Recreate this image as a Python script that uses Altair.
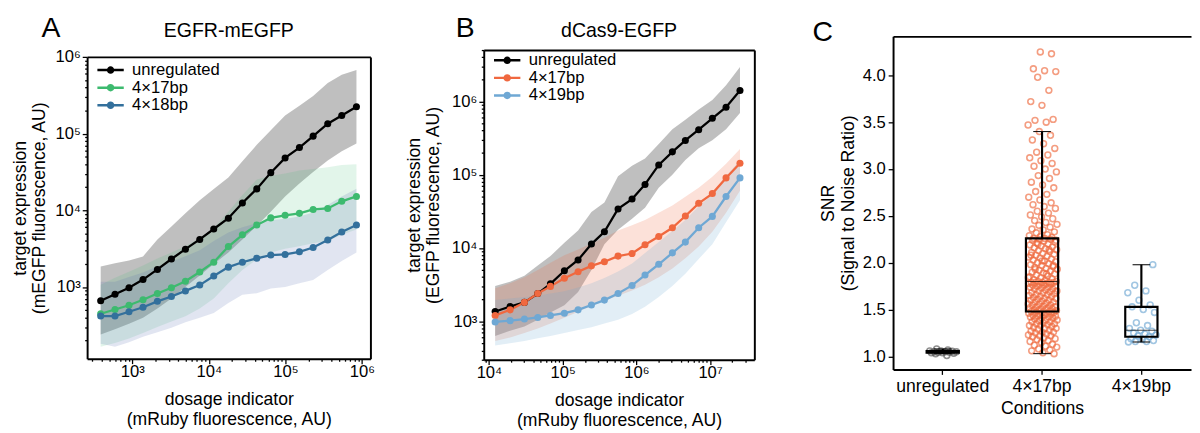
import altair as alt
import pandas as pd

FONT = "Liberation Sans"

# ---------------- Panel A : EGFR-mEGFP  (all values are log10)
a_series = ["unregulated", "4×17bp", "4×18bp"]
a_colors = ["#000000", "#3dba6f", "#33709c"]
a_band_colors = ["#000000", "#3dba6f", "#5a6fb0"]
a_band_opacity = [0.25, 0.15, 0.18]
a_x_log10 = [2.587, 2.774, 2.957, 3.140, 3.328, 3.511, 3.694, 3.881, 4.064, 4.255,
             4.438, 4.626, 4.809, 4.996, 5.183, 5.362, 5.553, 5.736, 5.928]
a_unreg = [2.821, 2.906, 2.991, 3.097, 3.229, 3.365, 3.493, 3.620, 3.756, 3.896,
           4.096, 4.279, 4.491, 4.683, 4.818, 4.967, 5.129, 5.235, 5.350]
a_17 = [2.651, 2.706, 2.762, 2.834, 2.915, 2.991, 3.076, 3.195, 3.323, 3.527,
        3.680, 3.807, 3.901, 3.935, 3.960, 4.011, 4.024, 4.117, 4.181]
a_18 = [2.621, 2.621, 2.677, 2.736, 2.813, 2.876, 2.949, 3.025, 3.144, 3.259,
        3.323, 3.374, 3.416, 3.425, 3.459, 3.514, 3.612, 3.718, 3.807]
a_unreg_hi = [3.267, 3.310, 3.344, 3.399, 3.620, 3.790, 3.960, 4.130, 4.279, 4.428,
              4.640, 4.853, 5.044, 5.235, 5.363, 5.490, 5.660, 5.766, 5.830]
a_unreg_lo = [2.38, 2.45, 2.52, 2.60, 2.72, 2.85, 3.00, 3.15, 3.30, 3.45,
              3.62, 3.80, 3.98, 4.18, 4.35, 4.50, 4.65, 4.77, 4.87]
a_17_hi = [3.03, 3.12, 3.20, 3.28, 3.37, 3.45, 3.53, 3.64, 3.77, 3.98,
           4.20, 4.40, 4.45, 4.48, 4.52, 4.54, 4.56, 4.59, 4.60]
a_17_lo = [2.22, 2.27, 2.33, 2.40, 2.48, 2.55, 2.62, 2.72, 2.85, 3.05,
           3.22, 3.36, 3.45, 3.50, 3.53, 3.57, 3.60, 3.68, 3.75]
a_18_hi = [3.07, 3.07, 3.13, 3.19, 3.27, 3.33, 3.40, 3.48, 3.60, 3.71,
           3.78, 3.83, 3.87, 3.89, 3.92, 3.97, 4.07, 4.18, 4.28]
a_18_lo = [2.26, 2.22, 2.28, 2.35, 2.41, 2.47, 2.54, 2.60, 2.66, 2.79,
           2.90, 2.92, 2.98, 3.00, 3.05, 3.09, 3.22, 3.34, 3.45]

# ---------------- Panel B : dCas9-EGFP
b_series = ["unregulated", "4×17bp", "4×19bp"]
b_colors = ["#000000", "#f0683f", "#6fa8d4"]
b_band_colors = ["#000000", "#f0683f", "#6fa8d4"]
b_band_opacity = [0.25, 0.2, 0.2]
b_x_log10 = [4.084, 4.287, 4.481, 4.662, 4.834, 5.023, 5.209, 5.390, 5.566, 5.751,
             5.941, 6.117, 6.303, 6.488, 6.664, 6.845, 7.030, 7.216, 7.405]
b_unreg = [3.133, 3.200, 3.258, 3.378, 3.511, 3.689, 3.836, 4.053, 4.222, 4.533,
           4.667, 4.867, 5.133, 5.311, 5.467, 5.613, 5.769, 5.920, 6.147]
b_17 = [3.080, 3.156, 3.258, 3.378, 3.476, 3.587, 3.676, 3.756, 3.813, 3.889,
        3.924, 4.044, 4.156, 4.276, 4.436, 4.609, 4.742, 4.956, 5.156]
b_19 = [2.991, 3.009, 3.031, 3.053, 3.080, 3.111, 3.156, 3.222, 3.289, 3.378,
        3.489, 3.631, 3.778, 3.933, 4.080, 4.276, 4.431, 4.702, 4.956]
b_unreg_hi = [3.48, 3.54, 3.62, 3.76, 3.89, 4.07, 4.24, 4.49, 4.62, 4.98,
              5.12, 5.22, 5.42, 5.62, 5.75, 5.89, 6.02, 6.22, 6.47]
b_unreg_lo = [2.80, 2.87, 2.93, 3.02, 3.12, 3.22, 3.40, 3.70, 4.05, 4.25,
              4.40, 4.55, 4.82, 5.00, 5.20, 5.36, 5.47, 5.62, 5.84]
b_17_hi = [3.45, 3.52, 3.60, 3.70, 3.80, 3.90, 3.98, 4.06, 4.14, 4.24,
           4.31, 4.38, 4.48, 4.58, 4.70, 4.82, 4.97, 5.15, 5.35]
b_17_lo = [2.73, 2.78, 2.84, 2.90, 2.97, 3.05, 3.13, 3.21, 3.28, 3.35,
           3.42, 3.50, 3.60, 3.72, 3.86, 4.02, 4.22, 4.48, 4.78]
b_19_hi = [3.29, 3.31, 3.33, 3.35, 3.38, 3.41, 3.46, 3.52, 3.59, 3.68,
           3.79, 3.93, 4.08, 4.23, 4.38, 4.57, 4.73, 4.98, 5.20]
b_19_lo = [2.67, 2.70, 2.73, 2.77, 2.80, 2.84, 2.88, 2.92, 2.97, 3.02,
           3.10, 3.20, 3.33, 3.48, 3.65, 3.85, 4.05, 4.35, 4.65]

# ---------------- Panel C : SNR per condition
c_conditions = ["unregulated", "4×17bp", "4×19bp"]
c_colors = ["#555555", "#ef6a3e", "#6fa8d4"]
snr_unregulated = [1.01, 1.03, 1.035, 1.04, 1.04, 1.045, 1.045, 1.05, 1.05, 1.05,
                   1.055, 1.06, 1.06, 1.07, 1.08]
snr_4x17 = [1.03, 1.04, 1.06, 1.07, 1.08, 1.10, 1.11, 1.12, 1.13, 1.15, 1.16, 1.17,
            1.18, 1.19, 1.20, 1.21, 1.22, 1.22, 1.23, 1.24, 1.25, 1.26, 1.26, 1.27,
            1.28, 1.29, 1.30, 1.30, 1.31, 1.32, 1.33, 1.33, 1.34, 1.35, 1.35, 1.36,
            1.37, 1.37, 1.38, 1.39, 1.39, 1.40, 1.41, 1.41, 1.42, 1.42, 1.43, 1.43,
            1.44, 1.44, 1.45, 1.45, 1.46, 1.46, 1.47, 1.47, 1.47,
            1.48, 1.48,
            1.49, 1.49, 1.50, 1.50, 1.51, 1.51, 1.52, 1.52, 1.53, 1.53, 1.54, 1.55,
            1.55, 1.56, 1.56, 1.57, 1.58, 1.58, 1.59, 1.60, 1.60, 1.61, 1.62, 1.62,
            1.63, 1.64, 1.64, 1.65, 1.66, 1.66, 1.67, 1.68, 1.68, 1.69, 1.70, 1.70,
            1.71, 1.72, 1.72, 1.73, 1.74, 1.74, 1.75, 1.75, 1.76, 1.76, 1.77, 1.77,
            1.78, 1.78, 1.79, 1.79, 1.79, 1.79, 1.79,
            1.80, 1.80,
            1.81, 1.82, 1.83, 1.84, 1.85, 1.86, 1.87, 1.88, 1.89, 1.90, 1.91, 1.92,
            1.93, 1.94, 1.95, 1.96, 1.97, 1.98, 1.99, 2.00, 2.01, 2.02, 2.03, 2.04,
            2.05, 2.06, 2.07, 2.08, 2.09, 2.10, 2.11, 2.12, 2.13, 2.14, 2.15, 2.16,
            2.17, 2.18, 2.19, 2.20, 2.21, 2.22, 2.23, 2.24, 2.25, 2.25, 1.84, 1.88,
            1.93, 1.97, 2.02, 2.08, 2.14, 2.20, 2.24,
            2.26, 2.26,
            2.27, 2.28, 2.29, 2.30, 2.32, 2.33, 2.35, 2.36, 2.38, 2.40, 2.41, 2.43,
            2.45, 2.47, 2.49, 2.51, 2.53, 2.55, 2.58, 2.60, 2.62, 2.64, 2.67, 2.70,
            2.73, 2.76, 2.80, 2.83, 2.86, 2.90, 2.93, 2.97, 3.00, 3.03, 3.06, 3.09,
            3.12, 3.15, 3.18, 3.22, 3.27, 3.31, 3.36, 3.40,
            3.47, 3.50, 3.52, 3.53, 3.68, 3.72, 3.84, 3.98, 4.04, 4.05, 4.07, 4.23, 4.25]
snr_4x19 = [1.155, 1.16, 1.16, 1.17, 1.18, 1.19, 1.21, 1.22, 1.23, 1.24, 1.25, 1.27,
            1.28, 1.30, 1.33, 1.36, 1.47, 1.50, 1.53, 1.55, 1.60, 1.68, 1.70, 1.76, 1.98]

panel_letters = ["A", "B", "C"]
panel_titles = ["EGFR-mEGFP", "dCas9-EGFP"]
x_title = ["dosage indicator", "(mRuby fluorescence, AU)"]
a_y_title = ["target expression", "(mEGFP fluorescence, AU)"]
b_y_title = ["target expression", "(EGFP fluorescence, AU)"]

SUP = {2: "²", 3: "³", 4: "⁴", 5: "⁵", 6: "⁶", 7: "⁷"}
# legend glyph: a line with a filled dot (dot drawn as two thick concentric rings)
LEG_PATH = ("M-2,0L2,0"
            "M-0.38,0A0.38,0.38,0,1,0,0.38,0A0.38,0.38,0,1,0,-0.38,0"
            "M-0.16,0A0.16,0.16,0,1,0,0.16,0A0.16,0.16,0,1,0,-0.16,0")

TOP = 32  # common top of all views; curve panels start their frame lower


def long_df(x_log, names, mids, his, los):
    rows = []
    for s, m, h, l in zip(names, mids, his, los):
        for xi, mi, hi_, lo_ in zip(x_log, m, h, l):
            rows.append({"series": s, "x": 10 ** xi, "y": 10 ** mi,
                         "hi": 10 ** hi_, "lo": 10 ** lo_})
    return pd.DataFrame(rows)


def log_axis(dmin, dmax, title, title_padding, label_padding, line_height=20):
    vals, majors = [], []
    for k in range(1, 9):
        for m in range(1, 10):
            v = m * 10 ** k
            if dmin <= v <= dmax:
                vals.append(v)
                if m == 1:
                    majors.append(k)
    expr = "".join(f"datum.value == {10 ** k} ? '10{SUP[k]}' : " for k in majors) + "''"
    test = "indexof([" + ",".join(str(10 ** k) for k in majors) + "], datum.value) >= 0"
    return alt.Axis(values=vals, labelExpr=expr,
                    tickSize={"condition": {"test": test, "value": 5}, "value": 2.5},
                    tickWidth=1.3, tickColor="black", labelFontSize=17, titleFontSize=18,
                    title=title, titlePadding=title_padding, titleLineHeight=line_height,
                    labelPadding=label_padding, domain=True, domainWidth=2,
                    domainColor="black", grid=False, labelOverlap=False, labelFlush=False)


def frame_axis(orient, offset=0):
    return alt.Axis(orient=orient, labels=False, ticks=False, title=None, domain=True,
                    domainWidth=2, domainColor="black", grid=False, offset=offset)


def curve_panel(df, names, colors, band_colors, band_op, xdom, ydom, w, frame_top,
                frame_bottom, y_title, y_tp, letter, title, letter_x, leg_xy):
    h = frame_bottom - TOP
    inset = frame_top - TOP
    xs = alt.Scale(type="log", domain=xdom, nice=False)
    ys = alt.Scale(type="log", domain=ydom, nice=False, range=[h, inset])
    xax = log_axis(xdom[0], xdom[1], x_title, 12, 0)
    yax = log_axis(ydom[0], ydom[1], y_title, y_tp, 2)
    layers = []
    for s, c, o in zip(names, band_colors, band_op):
        layers.append(
            alt.Chart(df).transform_filter(alt.datum.series == s)
            .mark_area(color=c, opacity=o)
            .encode(x=alt.X("x:Q", scale=xs, axis=None),
                    y=alt.Y("lo:Q", scale=ys, axis=None), y2="hi:Q"))
    cscale = alt.Scale(domain=names, range=colors)
    leg = alt.Legend(title=None, orient="none", legendX=leg_xy[0], legendY=leg_xy[1],
                     padding=0, symbolType=LEG_PATH, symbolSize=182, symbolStrokeWidth=2.5,
                     labelFontSize=17, labelFont=FONT, labelOffset=13.5, rowPadding=0,
                     labelColor="black", symbolOpacity=1)
    layers.append(alt.Chart(df).mark_line(strokeWidth=2.3).encode(
        x=alt.X("x:Q", scale=xs, axis=xax), y=alt.Y("y:Q", scale=ys, axis=yax),
        color=alt.Color("series:N", scale=cscale, legend=leg, sort=names)))
    layers.append(alt.Chart(df).mark_circle(size=52, opacity=1).encode(
        x=alt.X("x:Q", scale=xs, axis=frame_axis("top", -inset)),
        y=alt.Y("y:Q", scale=ys, axis=frame_axis("right")),
        color=alt.Color("series:N", scale=cscale, legend=None, sort=names)))
    layers.append(alt.Chart(pd.DataFrame({"t": [letter]})).mark_text(
        font=FONT, fontSize=29, align="center", baseline="alphabetic", color="black"
    ).encode(text="t:N", x=alt.value(letter_x), y=alt.value(1)))
    layers.append(alt.Chart(pd.DataFrame({"t": [title]})).mark_text(
        font=FONT, fontSize=20, align="center", baseline="alphabetic", color="black"
    ).encode(text="t:N", x=alt.value(w / 2), y=alt.value(1)))
    return (alt.layer(*layers)
            .resolve_axis(x="independent", y="independent")
            .properties(width=w, height=h, view=alt.ViewBackground(stroke="transparent")))


dfA = long_df(a_x_log10, a_series, [a_unreg, a_17, a_18],
              [a_unreg_hi, a_17_hi, a_18_hi], [a_unreg_lo, a_17_lo, a_18_lo])
dfB = long_df(b_x_log10, b_series, [b_unreg, b_17, b_19],
              [b_unreg_hi, b_17_hi, b_19_hi], [b_unreg_lo, b_17_lo, b_19_lo])

panelA = curve_panel(dfA, a_series, a_colors, a_band_colors, a_band_opacity,
                     [257, 1290000], [116, 1000000], 290, 53, 362, a_y_title, 6,
                     panel_letters[0], panel_titles[0], -37, (15.5, 26))
panelB = curve_panel(dfB, b_series, b_colors, b_band_colors, b_band_opacity,
                     [8500, 39800000], [299, 5010000], 277, 46, 363, b_y_title, 9,
                     panel_letters[1], panel_titles[1], -19, (15.5, 16))

# ---------------- Panel C
c_rows = []
for cond, vals in zip(c_conditions, [snr_unregulated, snr_4x17, snr_4x19]):
    for v in vals:
        c_rows.append({"cond": cond, "snr": v})
dfC = pd.DataFrame(c_rows)

# band step of ~103 px (the third band runs past the clipped right edge of the frame)
c_x = alt.Scale(domain=c_conditions, paddingInner=0, paddingOuter=alt.ExprRef("-0.0237"),
                align=0)
c_y = alt.Scale(domain=[0.861, 4.416], nice=False, zero=False)
c_yax = alt.Axis(values=[1.0, 1.5, 2.0, 2.5, 3.0, 3.5, 4.0], format=".1f",
                 title=["SNR", "(Signal to Noise Ratio)"], titleFontSize=18,
                 titleLineHeight=20, titlePadding=5, labelFontSize=17, labelPadding=3,
                 tickSize=5, tickWidth=1.3, domainWidth=2, grid=False)

pts = (alt.Chart(dfC)
       .transform_window(rn="row_number()")
       .transform_calculate(jit="((datum.rn * 0.6180339887) % 1) * 2 - 1")
       .mark_point(filled=False, size=36, strokeWidth=1.6, opacity=0.65)
       .encode(
           x=alt.X("cond:N", sort=c_conditions, scale=c_x, axis=frame_axis("top")),
           xOffset=alt.XOffset("jit:Q", scale=alt.Scale(domain=[-1, 1], range=[36.5, 66.5])),
           y=alt.Y("snr:Q", scale=c_y, axis=c_yax),
           color=alt.Color("cond:N", scale=alt.Scale(domain=c_conditions, range=c_colors),
                           legend=None)))

box = (alt.Chart(dfC)
       .mark_boxplot(size=33, extent=1.5, outliers=False,
                     box={"fill": "transparent", "stroke": "black", "strokeWidth": 2.2},
                     median={"color": "black", "strokeWidth": 2.2},
                     rule={"color": "black", "strokeWidth": 2.2},
                     ticks={"color": "black", "strokeWidth": 2.2, "size": 18})
       .encode(
           x=alt.X("cond:N", sort=c_conditions, scale=c_x,
                   axis=alt.Axis(orient="bottom", title="Conditions", titleFontSize=18,
                                 labelFontSize=18, labelAngle=0, labelPadding=4,
                                 titlePadding=4, tickSize=5, tickWidth=1.3,
                                 domainWidth=2, grid=False)),
           y=alt.Y("snr:Q", scale=c_y, axis=c_yax)))

c_letter = alt.Chart(pd.DataFrame({"t": [panel_letters[2]]})).mark_text(
    font=FONT, fontSize=29, align="center", baseline="alphabetic", color="black"
).encode(text="t:N", x=alt.value(-72), y=alt.value(4.5))

panelC = (alt.layer(pts, box, c_letter)
          .resolve_axis(x="independent")
          .properties(width=305, height=341,
                      view=alt.ViewBackground(stroke="transparent")))

inner = alt.hconcat(panelA, panelB, spacing=30).resolve_scale(color="independent")
chart = (alt.hconcat(inner, panelC, spacing=58)
         .resolve_scale(color="independent")
         .properties(padding={"left": 3, "top": 1, "right": 0, "bottom": 0})
         .configure(font=FONT)
         .configure_view(stroke="transparent")
         .configure_axis(labelFont=FONT, titleFont=FONT, labelColor="black",
                         titleColor="black", tickColor="black", domainColor="black",
                         titleFontWeight="normal"))

chart.save("out.html", embed_options={"renderer": "svg", "actions": False})
